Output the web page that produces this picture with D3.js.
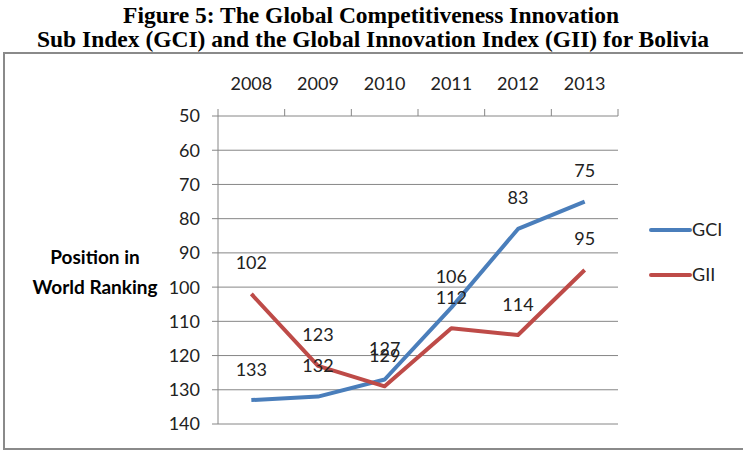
<!DOCTYPE html>
<html><head><meta charset="utf-8">
<script src="https://cdn.jsdelivr.net/npm/d3@7"></script>
<style>body{margin:0;background:#fff}</style>
</head><body>
<svg id="c" width="743" height="451"></svg>
<script>
const years = ["2008","2009","2010","2011","2012","2013"];
const gci = [133,132,127,106,83,75];
const gii = [102,123,129,112,114,95];
const yTicks = [50,60,70,80,90,100,110,120,130,140];
const seriesNames = ["GCI","GII"];
const colors = ["#4a7ebb","#be4b48"];

const svg = d3.select("#c");
const font = "Lato, 'Open Sans', sans-serif";
const serif = "'Liberation Serif', 'Times New Roman', serif";

// title
svg.append("text").attr("x",371).attr("y",23).attr("text-anchor","middle")
  .attr("font-family",serif).attr("font-weight","bold").attr("font-size",23.5)
  .text("Figure 5: The Global Competitiveness Innovation");
svg.append("text").attr("x",373).attr("y",47).attr("text-anchor","middle")
  .attr("font-family",serif).attr("font-weight","bold").attr("font-size",23.5)
  .text("Sub Index (GCI) and the Global Innovation Index (GII) for Bolivia");

// frame
svg.append("rect").attr("x",4).attr("y",53).attr("width",760).attr("height",396)
  .attr("fill","none").attr("stroke","#8a8a8a").attr("stroke-width",2);

const L=218, R=618, T=116, B=424;
const x = d3.scaleBand().domain(years).range([L,R]);
const y = d3.scaleLinear().domain([50,140]).range([T,B]);

// gridlines
svg.append("g").selectAll("line").data(yTicks).join("line")
  .attr("x1",L-6).attr("x2",R).attr("y1",d=>y(d)).attr("y2",d=>y(d))
  .attr("stroke","#868686").attr("stroke-width",1);
// y axis line
svg.append("line").attr("x1",L).attr("x2",L).attr("y1",T-7).attr("y2",B).attr("stroke","#868686");
// x ticks at band boundaries
const bounds = years.map(d=>x(d)).concat([R]);
svg.append("g").selectAll("line").data(bounds.slice(1)).join("line")
  .attr("x1",d=>d).attr("x2",d=>d).attr("y1",T-7).attr("y2",T).attr("stroke","#868686");

// y labels
svg.append("g").selectAll("text").data(yTicks).join("text")
  .attr("x",200).attr("y",d=>y(d)).attr("dy","0.36em").attr("text-anchor","end")
  .attr("font-family",font).attr("font-size",18).attr("fill","#222").text(d=>d);
// x labels
svg.append("g").selectAll("text").data(years).join("text")
  .attr("x",d=>x(d)+x.bandwidth()/2).attr("y",84).attr("dy","0.36em").attr("text-anchor","middle")
  .attr("font-family",font).attr("font-size",18).attr("fill","#222").text(d=>d);

// y title
svg.append("text").attr("x",95).attr("y",257).attr("dy","0.36em").attr("text-anchor","middle")
  .attr("font-family",font).attr("font-weight","bold").attr("font-size",19).text("Position in");
svg.append("text").attr("x",95).attr("y",287).attr("dy","0.36em").attr("text-anchor","middle")
  .attr("font-family",font).attr("font-weight","bold").attr("font-size",19).text("World Ranking");

const line = d3.line().x((d,i)=>x(years[i])+x.bandwidth()/2).y(d=>y(d));
[gci,gii].forEach((s,k)=>{
  svg.append("path").datum(s).attr("d",line).attr("fill","none")
    .attr("stroke",colors[k]).attr("stroke-width",4).attr("stroke-linejoin","round");
});
[gci,gii].forEach((s,k)=>{
  svg.append("g").selectAll("text").data(s).join("text")
    .attr("x",(d,i)=>x(years[i])+x.bandwidth()/2).attr("y",d=>y(d)-31).attr("dy","0.36em")
    .attr("text-anchor","middle").attr("font-family",font).attr("font-size",18).attr("fill","#222").text(d=>d);
});

// legend
seriesNames.forEach((n,k)=>{
  const ly = 230 + k*45;
  svg.append("line").attr("x1",651).attr("x2",690).attr("y1",ly).attr("y2",ly)
    .attr("stroke",colors[k]).attr("stroke-width",4).attr("stroke-linecap","round");
  svg.append("text").attr("x",692).attr("y",ly).attr("dy","0.36em")
    .attr("font-family",font).attr("font-size",18).attr("fill","#222").text(n);
});
</script>
</body></html>
